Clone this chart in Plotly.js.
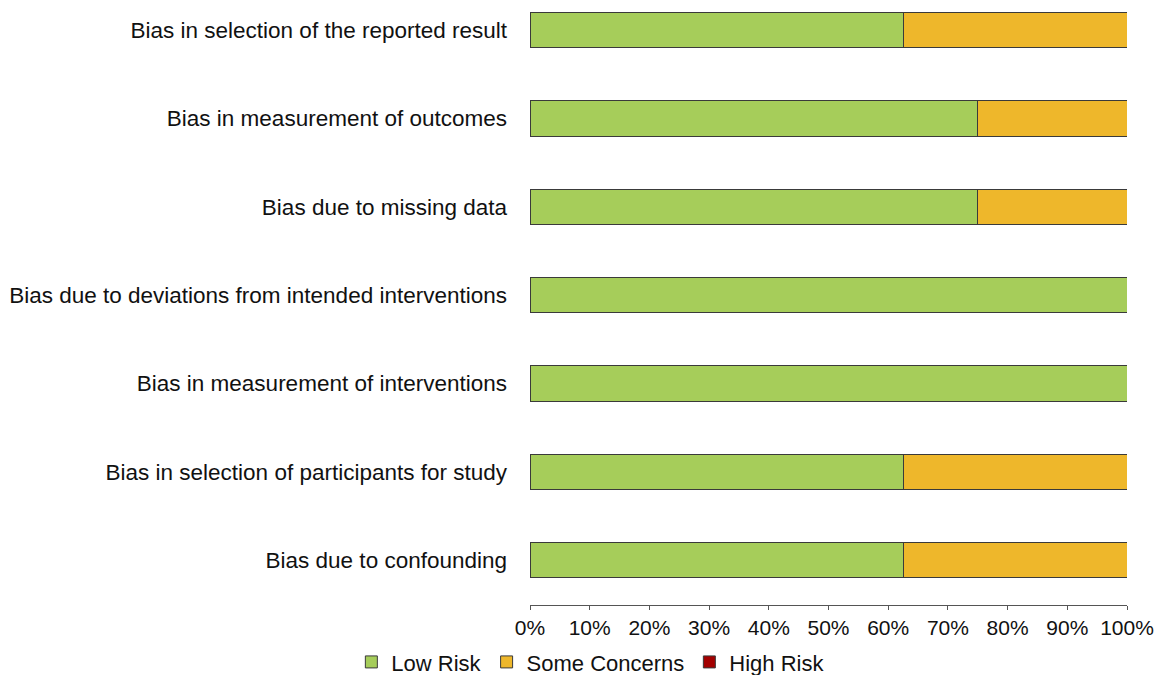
<!DOCTYPE html>
<html>
<head>
<meta charset="utf-8">
<script src="https://cdn.plot.ly/plotly-3.0.1.min.js"></script>
<style>html,body{margin:0;padding:0;background:#fff;}#chart{width:1154px;height:675px;}</style>
</head>
<body>
<div id="chart"></div>
<script>
const categories = [
  "Bias due to confounding",
  "Bias in selection of participants for study",
  "Bias in measurement of interventions",
  "Bias due to deviations from intended interventions",
  "Bias due to missing data",
  "Bias in measurement of outcomes",
  "Bias in selection of the reported result"
];
const lowRisk = [62.5, 62.5, 100, 100, 75, 75, 62.5];
const someConcerns = [37.5, 37.5, 0, 0, 25, 25, 37.5];
const highRisk = [0, 0, 0, 0, 0, 0, 0];
const tickVals = [0,10,20,30,40,50,60,70,80,90,100];
const tickText = ["0%","10%","20%","30%","40%","50%","60%","70%","80%","90%","100%"];

const line = {color: "#3a3a3a", width: 1};
const mk = (name, vals, color) => ({
  type: "bar", orientation: "h", name: name, x: vals, y: categories,
  marker: {color: color, line: line}, width: 0.4, hoverinfo: "x+name"
});
const data = [
  mk("Low Risk", lowRisk, "#a6cd5a"),
  mk("Some Concerns", someConcerns, "#eeb72b"),
  mk("High Risk", highRisk, "#a30000")
];
const layout = {
  width: 1154, height: 675,
  barmode: "stack",
  paper_bgcolor: "#fff", plot_bgcolor: "#fff",
  margin: {l: 530, r: 27, t: 10, b: 70, autoexpand: false},
  font: {family: "Liberation Sans, Arial, sans-serif", color: "#111"},
  xaxis: {
    range: [0, 100], tickvals: tickVals, ticktext: tickText,
    showgrid: false, zeroline: false, showline: true, linecolor: "#555", linewidth: 1,
    ticks: "outside", ticklen: 4, tickcolor: "#555",
    tickfont: {size: 21, color: "#111"}, fixedrange: true
  },
  yaxis: {
    range: [-0.51, 6.23], showgrid: false, zeroline: false, showline: false,
    ticks: "", ticklabelstandoff: 22,
    tickfont: {size: 22.5, color: "#111"}, fixedrange: true
  },
  showlegend: true,
  legend: {
    orientation: "h", xref: "container", yref: "paper",
    x: 0.512, xanchor: "center", y: -0.096, yanchor: "middle",
    bgcolor: "rgba(0,0,0,0)",
    font: {size: 22, color: "#111"}, traceorder: "normal",
    itemwidth: 30, tracegroupgap: 0
  }
};
Plotly.newPlot("chart", data, layout, {displayModeBar: false, staticPlot: true});
</script>
</body>
</html>
